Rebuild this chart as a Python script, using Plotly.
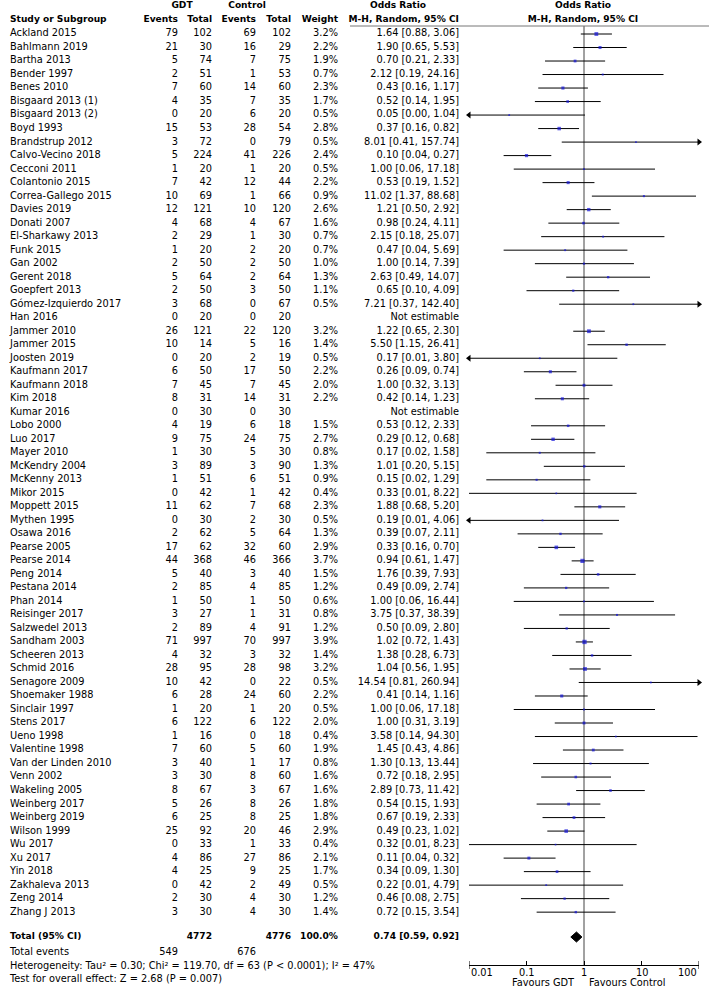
import math
import plotly.graph_objects as go

studies = ["Ackland 2015", "Bahlmann 2019", "Bartha 2013", "Bender 1997", "Benes 2010",
           "Bisgaard 2013 (1)", "Bisgaard 2013 (2)", "Boyd 1993", "Brandstrup 2012",
           "Calvo-Vecino 2018", "Cecconi 2011", "Colantonio 2015", "Correa-Gallego 2015",
           "Davies 2019", "Donati 2007", "El-Sharkawy 2013", "Funk 2015", "Gan 2002",
           "Gerent 2018", "Goepfert 2013", "Gómez-Izquierdo 2017", "Han 2016", "Jammer 2010",
           "Jammer 2015", "Joosten 2019", "Kaufmann 2017", "Kaufmann 2018", "Kim 2018",
           "Kumar 2016", "Lobo 2000", "Luo 2017", "Mayer 2010", "McKendry 2004",
           "McKenny 2013", "Mikor 2015", "Moppett 2015", "Mythen 1995", "Osawa 2016",
           "Pearse 2005", "Pearse 2014", "Peng 2014", "Pestana 2014", "Phan 2014",
           "Reisinger 2017", "Salzwedel 2013", "Sandham 2003", "Scheeren 2013", "Schmid 2016",
           "Senagore 2009", "Shoemaker 1988", "Sinclair 1997", "Stens 2017", "Ueno 1998",
           "Valentine 1998", "Van der Linden 2010", "Venn 2002", "Wakeling 2005",
           "Weinberg 2017", "Weinberg 2019", "Wilson 1999", "Wu 2017", "Xu 2017", "Yin 2018",
           "Zakhaleva 2013", "Zeng 2014", "Zhang J 2013"]
gdt_events = [79, 21, 5, 2, 7, 4, 0, 15, 3, 5, 1, 7, 10, 12, 4, 2, 1, 2, 5, 2, 3, 0, 26, 10, 0,
              6, 7, 8, 0, 4, 9, 1, 3, 1, 0, 11, 0, 2, 17, 44, 5, 2, 1, 3, 2, 71, 4, 28, 10, 6,
              1, 6, 1, 7, 3, 3, 8, 5, 6, 25, 0, 4, 4, 0, 2, 3]
gdt_total = [102, 30, 74, 51, 60, 35, 20, 53, 72, 224, 20, 42, 69, 121, 68, 29, 20, 50, 64, 50,
             68, 20, 121, 14, 20, 50, 45, 31, 30, 19, 75, 30, 89, 51, 42, 62, 30, 62, 62, 368,
             40, 85, 50, 27, 89, 997, 32, 95, 42, 28, 20, 122, 16, 60, 40, 30, 67, 26, 25, 92,
             33, 86, 25, 42, 30, 30]
ctl_events = [69, 16, 7, 1, 14, 7, 6, 28, 0, 41, 1, 12, 1, 10, 4, 1, 2, 2, 2, 3, 0, 0, 22, 5, 2,
              17, 7, 14, 0, 6, 24, 5, 3, 6, 1, 7, 2, 5, 32, 46, 3, 4, 1, 1, 4, 70, 3, 28, 0, 24,
              1, 6, 0, 5, 1, 8, 3, 8, 8, 20, 1, 27, 9, 2, 4, 4]
ctl_total = [102, 29, 75, 53, 60, 35, 20, 54, 79, 226, 20, 44, 66, 120, 67, 30, 20, 50, 64, 50,
             67, 20, 120, 16, 19, 50, 45, 31, 30, 18, 75, 30, 90, 51, 42, 68, 30, 64, 60, 366,
             40, 85, 50, 31, 91, 997, 32, 98, 22, 60, 20, 122, 18, 60, 17, 60, 67, 26, 25, 46,
             33, 86, 25, 49, 30, 30]
weights = [3.2, 2.2, 1.9, 0.7, 2.3, 1.7, 0.5, 2.8, 0.5, 2.4, 0.5, 2.2, 0.9, 2.6, 1.6, 0.7, 0.7,
           1.0, 1.3, 1.1, 0.5, None, 3.2, 1.4, 0.5, 2.2, 2.0, 2.2, None, 1.5, 2.7, 0.8, 1.3, 0.9,
           0.4, 2.3, 0.5, 1.3, 2.9, 3.7, 1.5, 1.2, 0.6, 0.8, 1.2, 3.9, 1.4, 3.2, 0.5, 2.2, 0.5,
           2.0, 0.4, 1.9, 0.8, 1.6, 1.6, 1.8, 1.8, 2.9, 0.4, 2.1, 1.7, 0.5, 1.2, 1.4]
or_est = [1.64, 1.90, 0.70, 2.12, 0.43, 0.52, 0.05, 0.37, 8.01, 0.10, 1.00, 0.53, 11.02, 1.21,
          0.98, 2.15, 0.47, 1.00, 2.63, 0.65, 7.21, None, 1.22, 5.50, 0.17, 0.26, 1.00, 0.42,
          None, 0.53, 0.29, 0.17, 1.01, 0.15, 0.33, 1.88, 0.19, 0.39, 0.33, 0.94, 1.76, 0.49,
          1.00, 3.75, 0.50, 1.02, 1.38, 1.04, 14.54, 0.41, 1.00, 1.00, 3.58, 1.45, 1.30, 0.72,
          2.89, 0.54, 0.67, 0.49, 0.32, 0.11, 0.34, 0.22, 0.46, 0.72]
or_lo = [0.88, 0.65, 0.21, 0.19, 0.16, 0.14, 0.00, 0.16, 0.41, 0.04, 0.06, 0.19, 1.37, 0.50,
         0.24, 0.18, 0.04, 0.14, 0.49, 0.10, 0.37, None, 0.65, 1.15, 0.01, 0.09, 0.32, 0.14,
         None, 0.12, 0.12, 0.02, 0.20, 0.02, 0.01, 0.68, 0.01, 0.07, 0.16, 0.61, 0.39, 0.09,
         0.06, 0.37, 0.09, 0.72, 0.28, 0.56, 0.81, 0.14, 0.06, 0.31, 0.14, 0.43, 0.13, 0.18,
         0.73, 0.15, 0.19, 0.23, 0.01, 0.04, 0.09, 0.01, 0.08, 0.15]
or_hi = [3.06, 5.53, 2.33, 24.16, 1.17, 1.95, 1.04, 0.82, 157.74, 0.27, 17.18, 1.52, 88.68,
         2.92, 4.11, 25.07, 5.69, 7.39, 14.07, 4.09, 142.40, None, 2.30, 26.41, 3.80, 0.74,
         3.13, 1.23, None, 2.33, 0.68, 1.58, 5.15, 1.29, 8.22, 5.20, 4.06, 2.11, 0.70, 1.47,
         7.93, 2.74, 16.44, 38.39, 2.80, 1.43, 6.73, 1.95, 260.94, 1.16, 17.18, 3.19, 94.30,
         4.86, 13.44, 2.95, 11.42, 1.93, 2.33, 1.02, 8.23, 0.32, 1.30, 4.79, 2.75, 3.54]

total_label = "Total (95% CI)"
total_gdt_n, total_ctl_n = 4772, 4776
total_gdt_events, total_ctl_events = 549, 676
total_or, total_lo, total_hi = 0.74, 0.59, 0.92
het_text = "Heterogeneity: Tau² = 0.30; Chi² = 119.70, df = 63 (P < 0.0001); I² = 47%"
test_text = "Test for overall effect: Z = 2.68 (P = 0.007)"
tick_vals = [0.01, 0.1, 1, 10, 100]
tick_text = ["0.01", "0.1", "1", "10", "100"]

# ---------------- layout constants (pixels) ----------------
W, H = 709, 989
Y0, DY = 34.0, 13.51
FONT = "DejaVu Sans"
FS = 9.8
FSB = 9.1
XMIN, XMAX = 0.01, 100
NAME_X = 10
AXIS_Y = 965


def row_y(i):
    return Y0 + i * DY


def precise_ci(a, n1, c, n2):
    b, d = n1 - a, n2 - c
    if 0 in (a, b, c, d):
        a, b, c, d = a + 0.5, b + 0.5, c + 0.5, d + 0.5
    lor = math.log(a * d / (b * c))
    se = math.sqrt(1 / a + 1 / b + 1 / c + 1 / d)
    return math.exp(lor - 1.96 * se), math.exp(lor + 1.96 * se)


n = len(studies)
ys = [row_y(i) for i in range(n)]
y_total = 937
y_events = 953
y_het = 966.5
y_test = 980

fig = go.Figure()


def text_trace(xpix, yvals, texts, pos, bold=False):
    fig.add_trace(go.Scatter(
        x=[xpix] * len(yvals), y=yvals, text=texts, mode="text",
        textposition=pos, xaxis="x2", yaxis="y", hoverinfo="skip", showlegend=False,
        cliponaxis=False,
        textfont=dict(family=FONT, size=FSB if bold else FS, color="black",
                      weight="bold" if bold else "normal")))


def fmt_ci(e, l, h):
    if e is None:
        return "Not estimable"
    return f"{e:.2f} [{l:.2f}, {h:.2f}]"


text_trace(NAME_X, ys, studies, "middle right")
text_trace(178, ys, [str(v) for v in gdt_events], "middle left")
text_trace(212, ys, [str(v) for v in gdt_total], "middle left")
text_trace(256, ys, [str(v) for v in ctl_events], "middle left")
text_trace(291, ys, [str(v) for v in ctl_total], "middle left")
text_trace(338, ys, ["" if w is None else f"{w:.1f}%" for w in weights], "middle left")
text_trace(459, ys, [fmt_ci(e, l, h) for e, l, h in zip(or_est, or_lo, or_hi)], "middle left")

# headers
text_trace(182, [6], ["GDT"], "middle center", bold=True)
text_trace(247, [6], ["Control"], "middle center", bold=True)
text_trace(398, [6], ["Odds Ratio"], "middle center", bold=True)
text_trace(583, [6], ["Odds Ratio"], "middle center", bold=True)
text_trace(NAME_X, [20], ["Study or Subgroup"], "middle right", bold=True)
text_trace(178, [20], ["Events"], "middle left", bold=True)
text_trace(212, [20], ["Total"], "middle left", bold=True)
text_trace(256, [20], ["Events"], "middle left", bold=True)
text_trace(291, [20], ["Total"], "middle left", bold=True)
text_trace(338, [20], ["Weight"], "middle left", bold=True)
text_trace(459, [20], ["M-H, Random, 95% CI"], "middle left", bold=True)
text_trace(583, [20], ["M-H, Random, 95% CI"], "middle center", bold=True)

# totals
text_trace(NAME_X, [y_total], [total_label], "middle right", bold=True)
text_trace(212, [y_total], [str(total_gdt_n)], "middle left", bold=True)
text_trace(291, [y_total], [str(total_ctl_n)], "middle left", bold=True)
text_trace(338, [y_total], ["100.0%"], "middle left", bold=True)
text_trace(459, [y_total], [fmt_ci(total_or, total_lo, total_hi)], "middle left", bold=True)
text_trace(NAME_X, [y_events], ["Total events"], "middle right")
text_trace(178, [y_events], [str(total_gdt_events)], "middle left")
text_trace(256, [y_events], [str(total_ctl_events)], "middle left")
text_trace(NAME_X, [y_het], [het_text], "middle right")
text_trace(NAME_X, [y_test], [test_text], "middle right")

# --------------- forest plot ----------------
lx, ly = [], []
left_arrows_y, right_arrows_y = [], []
mx, my, ms = [], [], []
for i in range(n):
    if or_est[i] is None:
        continue
    y = ys[i]
    plo, phi = precise_ci(gdt_events[i], gdt_total[i], ctl_events[i], ctl_total[i])
    lo = max(or_lo[i], XMIN)
    hi = min(or_hi[i], XMAX)
    lx += [lo, hi, None]
    ly += [y, y, None]
    if plo < XMIN:
        left_arrows_y.append(y)
    if phi > XMAX:
        right_arrows_y.append(y)
    mx.append(or_est[i])
    my.append(y)
    ms.append(1.4 + 0.75 * weights[i])

# vertical line of no effect
fig.add_shape(type="line", xref="x", yref="y", x0=1, x1=1, y0=26, y1=AXIS_Y,
              line=dict(color="#444444", width=1), layer="below")
# header rule
fig.add_shape(type="line", xref="paper", yref="y", x0=350 / W, x1=1, y0=26, y1=26,
              line=dict(color="#777777", width=1))
# end ticks extending below the axis line
for v in (XMIN, XMAX):
    fig.add_shape(type="line", xref="x", yref="y", x0=v, x1=v, y0=AXIS_Y - 4,
                  y1=AXIS_Y + 4, line=dict(color="black", width=1))

fig.add_trace(go.Scatter(x=lx, y=ly, mode="lines", line=dict(color="black", width=1),
                         xaxis="x", yaxis="y", hoverinfo="skip", showlegend=False,
                         cliponaxis=False))
fig.add_trace(go.Scatter(x=[XMIN] * len(left_arrows_y), y=left_arrows_y, mode="markers",
                         marker=dict(symbol="triangle-left", size=6, color="black"),
                         xaxis="x", yaxis="y", hoverinfo="skip", showlegend=False,
                         cliponaxis=False))
fig.add_trace(go.Scatter(x=[XMAX] * len(right_arrows_y), y=right_arrows_y, mode="markers",
                         marker=dict(symbol="triangle-right", size=6, color="black"),
                         xaxis="x", yaxis="y", hoverinfo="skip", showlegend=False,
                         cliponaxis=False))
fig.add_trace(go.Scatter(x=mx, y=my, mode="markers",
                         marker=dict(symbol="square", size=ms, color="#1414d8",
                                     line=dict(width=0)),
                         xaxis="x", yaxis="y", hoverinfo="skip", showlegend=False,
                         cliponaxis=False))
fig.add_trace(go.Scatter(x=[total_lo, total_or, total_hi, total_or, total_lo],
                         y=[y_total, y_total - 5, y_total, y_total + 5, y_total],
                         mode="lines", fill="toself", fillcolor="black",
                         line=dict(color="black", width=1),
                         xaxis="x", yaxis="y", hoverinfo="skip", showlegend=False))

# tick labels (outer labels aligned inward, as in the reference)
for v, t in zip(tick_vals, tick_text):
    anchor = "left" if v == XMIN else ("right" if v == XMAX else "center")
    fig.add_annotation(x=math.log10(v), y=972.5, xref="x", yref="y", text=t,
                       xanchor=anchor, yanchor="middle", showarrow=False,
                       font=dict(family=FONT, size=FS, color="black"))

fig.add_annotation(x=0, y=982.5, xref="x", yref="y", text="Favours GDT",
                   xanchor="right", yanchor="middle", xshift=-7, showarrow=False,
                   font=dict(family=FONT, size=FS, color="black"))
fig.add_annotation(x=0, y=982.5, xref="x", yref="y", text="Favours Control",
                   xanchor="left", yanchor="middle", xshift=3, showarrow=False,
                   font=dict(family=FONT, size=FS, color="black"))

fig.update_layout(
    width=W, height=H, margin=dict(l=0, r=0, t=0, b=0),
    paper_bgcolor="white", plot_bgcolor="rgba(0,0,0,0)",
    xaxis=dict(type="log", range=[math.log10(XMIN), math.log10(XMAX)],
               domain=[469 / W, 699 / W], anchor="free", position=1 - AXIS_Y / H,
               showline=True, linecolor="black", linewidth=1, ticks="inside",
               ticklen=4, tickcolor="black", tickvals=tick_vals, showticklabels=False,
               showgrid=False, zeroline=False, fixedrange=True),
    xaxis2=dict(domain=[0, 1], range=[0, W], visible=False, anchor="y", fixedrange=True),
    yaxis=dict(domain=[0, 1], range=[H, 0], visible=False, fixedrange=True),
)

fig.write_html("out.html", config={"displayModeBar": False},
               post_script="document.body.style.margin='0';")
